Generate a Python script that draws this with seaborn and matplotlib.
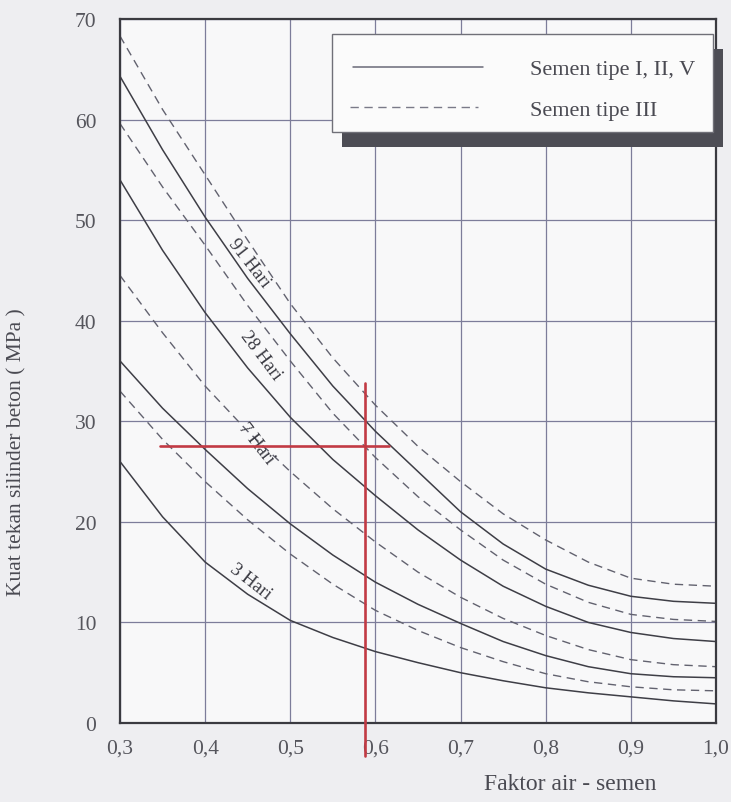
import numpy as np
import pandas as pd
import matplotlib
matplotlib.use("Agg")
import matplotlib.pyplot as plt
from matplotlib.patches import Rectangle
import seaborn as sns

# ---------------- data ----------------
fas = [0.30, 0.35, 0.40, 0.45, 0.50, 0.55, 0.60, 0.65, 0.70, 0.75, 0.80, 0.85, 0.90, 0.95, 1.00]

# Semen tipe III (dashed)
t3_91 = [68.3, 61.0, 54.5, 48.0, 41.7, 36.3, 31.6, 27.5, 24.0, 20.8, 18.2, 16.0, 14.4, 13.8, 13.6]
t3_28 = [59.6, 53.3, 47.5, 41.5, 36.0, 30.8, 26.4, 22.5, 19.2, 16.2, 13.8, 12.0, 10.8, 10.3, 10.1]
t3_7 = [44.5, 38.8, 33.5, 29.0, 25.0, 21.3, 18.0, 15.0, 12.5, 10.4, 8.7, 7.3, 6.3, 5.8, 5.6]
t3_3 = [33.0, 28.2, 24.0, 20.2, 16.8, 13.8, 11.2, 9.2, 7.5, 6.1, 4.9, 4.1, 3.6, 3.3, 3.2]

# Semen tipe I, II, V (solid)
t1_91 = [64.3, 57.0, 50.3, 44.2, 38.7, 33.5, 29.0, 25.0, 21.0, 17.8, 15.3, 13.7, 12.6, 12.1, 11.9]
t1_28 = [54.0, 47.0, 40.8, 35.3, 30.4, 26.2, 22.6, 19.2, 16.2, 13.6, 11.6, 10.0, 9.0, 8.4, 8.1]
t1_7 = [36.0, 31.3, 27.2, 23.3, 19.8, 16.7, 14.0, 11.8, 9.9, 8.1, 6.7, 5.6, 4.9, 4.6, 4.5]
t1_3 = [26.0, 20.5, 16.0, 12.8, 10.2, 8.5, 7.1, 6.0, 5.0, 4.2, 3.5, 3.0, 2.6, 2.2, 1.9]

ages = ["91 Hari", "28 Hari", "7 Hari", "3 Hari"]
label_x = [0.452, 0.465, 0.460, 0.453]
label_y = [45.8, 36.6, 27.8, 14.1]
label_rot = [-52, -53, -52, -38]

xticks = [0.3, 0.4, 0.5, 0.6, 0.7, 0.8, 0.9, 1.0]
xticklabels = ["0,3", "0,4", "0,5", "0,6", "0,7", "0,8", "0,9", "1,0"]
yticks = [0, 10, 20, 30, 40, 50, 60, 70]

# red reading lines
red_h_x = [0.347, 0.616]
red_h_y = 27.5
red_v_x = 0.588
red_v_y = [-3.3, 33.8]

legend_labels = ["Semen tipe I, II, V", "Semen tipe III"]

# ---------------- build long table ----------------
rows = []
series = {
    ("I", "91 Hari"): t1_91, ("I", "28 Hari"): t1_28, ("I", "7 Hari"): t1_7, ("I", "3 Hari"): t1_3,
    ("III", "91 Hari"): t3_91, ("III", "28 Hari"): t3_28, ("III", "7 Hari"): t3_7, ("III", "3 Hari"): t3_3,
}
for (typ, age), vals in series.items():
    for xv, yv in zip(fas, vals):
        rows.append({"fas": xv, "kuat": yv, "tipe": typ, "umur": age, "curve": f"{typ}-{age}"})
df = pd.DataFrame(rows)

# ---------------- style ----------------
sns.set_theme(style="white")
plt.rcParams["font.family"] = ["Liberation Serif", "DejaVu Serif"]

fig = plt.figure(figsize=(7.31, 8.03), dpi=100, facecolor="#eeeef1")
W, H = 731, 803
L, R, T, B = 120, 716, 20, 724
ax = fig.add_axes([L / W, 1 - B / H, (R - L) / W, (B - T) / H])
ax.set_facecolor("#f8f8f9")

sns.lineplot(data=df[df.tipe == "I"], x="fas", y="kuat", units="curve", estimator=None,
             color="#3e3e46", lw=1.1, ax=ax, legend=False, sort=True)
sns.lineplot(data=df[df.tipe == "III"], x="fas", y="kuat", units="curve", estimator=None,
             color="#62626f", lw=1.0, ax=ax, legend=False, sort=True)
for ln in ax.get_lines()[4:]:
    ln.set_dashes((6, 4))

ax.set_xlim(0.3, 1.0)
ax.set_ylim(0, 70)
ax.set_xticks(xticks)
ax.set_xticklabels(xticklabels)
ax.set_yticks(yticks)
ax.grid(True, color="#7d7d9a", lw=0.9)
ax.set_axisbelow(True)
for s in ax.spines.values():
    s.set_color("#3a3a40")
    s.set_linewidth(1.6)
ax.tick_params(axis="both", length=0, labelsize=15.5, colors="#55555c")
ax.tick_params(axis="y", pad=17)
ax.tick_params(axis="x", pad=11)
ax.set_xlabel("")
ax.set_ylabel("")

fig.text(17 / W, 1 - 452 / H, "Kuat tekan silinder beton ( MPa )", rotation=90,
         ha="center", va="center", fontsize=15.5, color="#4a4a52")
fig.text(570 / W, 1 - 785 / H, "Faktor air - semen", ha="center", va="center",
         fontsize=17, color="#4a4a52")

# curve labels
for t, lx, ly, r in zip(ages, label_x, label_y, label_rot):
    ax.text(lx, ly, t, rotation=r, ha="center", va="center", fontsize=13.5,
            color="#3a3a42", rotation_mode="anchor")

# red lines
ax.plot(red_h_x, [red_h_y, red_h_y], color="#c23a44", lw=1.9, zorder=5)
ax.plot([red_v_x, red_v_x], red_v_y, color="#c23a44", lw=1.9, zorder=5, clip_on=False)

# legend box with shadow
bx0, bx1 = (332 - L) / (R - L), (713 - L) / (R - L)
by1, by0 = (B - 35) / (B - T), (B - 133) / (B - T)
dx, dy = 10 / (R - L), 15 / (B - T)
ax.add_patch(Rectangle((bx0 + dx, by0 - dy), bx1 - bx0, by1 - by0, transform=ax.transAxes,
                       facecolor="#4d4d55", edgecolor="none", zorder=6, clip_on=False))
ax.add_patch(Rectangle((bx0, by0), bx1 - bx0, by1 - by0, transform=ax.transAxes,
                       facecolor="#fbfbfb", edgecolor="#707078", lw=1.0, zorder=7, clip_on=False))
ly1 = (B - 68) / (B - T)
ly2 = (B - 108) / (B - T)
ax.plot([(353 - L) / (R - L), (483 - L) / (R - L)], [ly1, ly1], transform=ax.transAxes,
        color="#6a6a78", lw=1.1, zorder=8)
ax.plot([(350 - L) / (R - L), (478 - L) / (R - L)], [ly2, ly2], transform=ax.transAxes,
        color="#7a7a88", lw=1.0, dashes=(6, 4), zorder=8)
ax.text((530 - L) / (R - L), (B - 70) / (B - T), legend_labels[0], transform=ax.transAxes,
        ha="left", va="center", fontsize=16, color="#4a4a52", zorder=8)
ax.text((530 - L) / (R - L), (B - 111) / (B - T), legend_labels[1], transform=ax.transAxes,
        ha="left", va="center", fontsize=16, color="#4a4a52", zorder=8)

fig.savefig("out.png", dpi=100, facecolor=fig.get_facecolor())
